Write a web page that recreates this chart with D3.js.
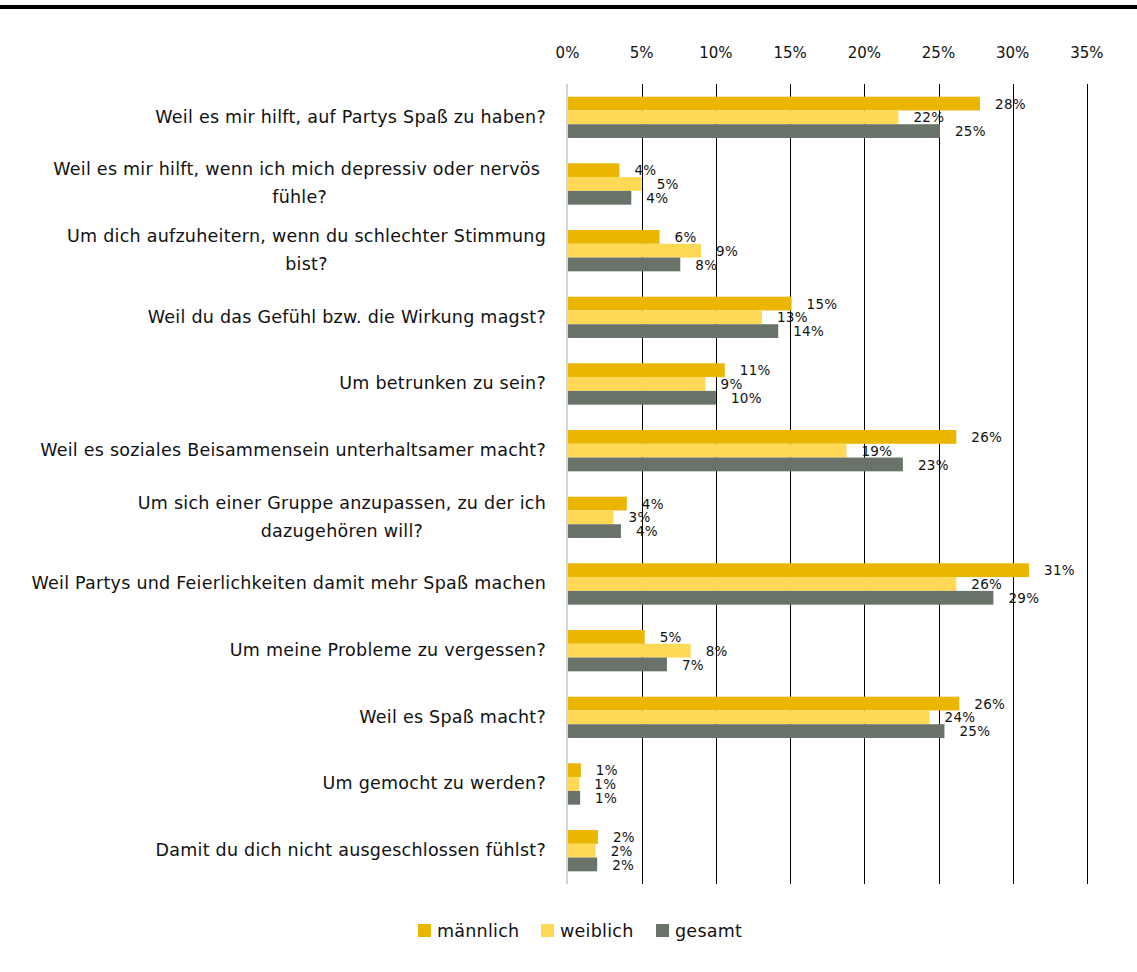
<!DOCTYPE html>
<html>
<head>
<meta charset="utf-8">
<script src="https://cdn.jsdelivr.net/npm/d3@7"></script>
<style>
  body { margin: 0; background: #fff; }
  text { font-family: "DejaVu Sans", sans-serif; fill: #111; }
</style>
</head>
<body>
<div id="graph"></div>
<script>
// question labels, "\n" marks a line break as in the source
var categories = [
  "Weil es mir hilft, auf Partys Spaß zu haben?",
  "Weil es mir hilft, wenn ich mich depressiv oder nervös \nfühle?",
  "Um dich aufzuheitern, wenn du schlechter Stimmung\nbist?",
  "Weil du das Gefühl bzw. die Wirkung magst?",
  "Um betrunken zu sein?",
  "Weil es soziales Beisammensein unterhaltsamer macht?",
  "Um sich einer Gruppe anzupassen, zu der ich\ndazugehören will?",
  "Weil Partys und Feierlichkeiten damit mehr Spaß machen",
  "Um meine Probleme zu vergessen?",
  "Weil es Spaß macht?",
  "Um gemocht zu werden?",
  "Damit du dich nicht ausgeschlossen fühlst?"
];
var series = ["männlich", "weiblich", "gesamt"];
var maennlich = [27.8, 3.5, 6.2, 15.1, 10.6, 26.2, 4.0, 31.1, 5.2, 26.4, 0.9, 2.05];
var weiblich  = [22.3, 5.0, 9.0, 13.1, 9.3, 18.8, 3.1, 26.2, 8.3, 24.4, 0.8, 1.9];
var gesamt    = [25.1, 4.3, 7.6, 14.2, 10.0, 22.6, 3.6, 28.7, 6.7, 25.4, 0.85, 2.0];
var ticks = [0, 5, 10, 15, 20, 25, 30, 35];

var colors = ["#eab600", "#ffd955", "#69736a"];
var values = [maennlich, weiblich, gesamt];

var W = 1137, H = 972;
var margin = {top: 84, left: 567.5, right: 50, bottom: 88};

var svg = d3.select('#graph').append('svg')
    .attr('width', W)
    .attr('height', H);

// thick rule at the very top
svg.append('rect')
    .attr('x', 0).attr('y', 5)
    .attr('width', W).attr('height', 4)
    .attr('fill', '#000');

var x = d3.scaleLinear().domain([0, 35]).range([margin.left, margin.left + 35 * 14.84]);
var y = d3.scaleBand().domain(d3.range(categories.length))
    .range([margin.top, H - margin.bottom]).paddingInner(0.38).paddingOuter(0.19);
var sub = d3.scaleBand().domain(d3.range(series.length)).range([0, y.bandwidth()]);

// gridlines
svg.append('g')
    .selectAll('line')
    .data(ticks.slice(1))
    .enter()
    .append('line')
    .attr('x1', function(d){ return Math.round(x(d)) + 0.5; })
    .attr('x2', function(d){ return Math.round(x(d)) + 0.5; })
    .attr('y1', margin.top).attr('y2', H - margin.bottom)
    .attr('stroke', '#000').attr('stroke-width', 1);

// tick labels on top
svg.append('g')
    .selectAll('text')
    .data(ticks)
    .enter()
    .append('text')
    .attr('x', function(d){ return x(d); })
    .attr('y', 58)
    .attr('text-anchor', 'middle')
    .attr('font-size', '15px')
    .text(function(d){ return d + '%'; });

// bars
var groups = svg.selectAll('g.grp')
    .data(categories)
    .enter()
    .append('g')
    .attr('class', 'grp')
    .attr('transform', function(d, i){ return 'translate(0,' + y(i) + ')'; });

groups.selectAll('rect')
    .data(function(d, i){ return values.map(function(v, s){ return {s: s, v: v[i]}; }); })
    .enter()
    .append('rect')
    .attr('x', x(0))
    .attr('y', function(d){ return sub(d.s); })
    .attr('width', function(d){ return x(d.v) - x(0); })
    .attr('height', sub.bandwidth())
    .attr('fill', function(d){ return colors[d.s]; });

// value labels
groups.selectAll('text.val')
    .data(function(d, i){ return values.map(function(v, s){ return {s: s, v: v[i]}; }); })
    .enter()
    .append('text')
    .attr('class', 'val')
    .attr('x', function(d){ return x(d.v) + 15; })
    .attr('y', function(d){ return sub(d.s) + sub.bandwidth() / 2; })
    .attr('dy', '0.38em')
    .attr('font-size', '13.5px')
    .attr('letter-spacing', '0.3px')
    .text(function(d){ return Math.round(d.v) + '%'; });

// axis line at 0 (light grey)
svg.append('line')
    .attr('x1', x(0) - 0.5).attr('x2', x(0) - 0.5)
    .attr('y1', margin.top).attr('y2', H - margin.bottom)
    .attr('stroke', '#d4d4d4').attr('stroke-width', 2);

// category headings, centred block whose longest line ends at the right edge
groups.each(function(d, i){
  var g = d3.select(this);
  var lines = d.split('\n');
  var cy = y.bandwidth() / 2 - 1;
  var t = g.append('text')
      .attr('font-size', '17.5px')
      .attr('letter-spacing', '0.25px')
      .attr('text-anchor', 'middle')
      .attr('xml:space', 'preserve');
  lines.forEach(function(l, k){
    t.append('tspan')
      .attr('y', cy + (k - (lines.length - 1) / 2) * 28)
      .attr('dy', '0.36em')
      .text(l);
  });
  var maxw = 0;
  t.selectAll('tspan').each(function(){ maxw = Math.max(maxw, this.getComputedTextLength()); });
  t.selectAll('tspan').attr('x', 546 - maxw / 2);
});

// legend
var legend = svg.append('g').attr('transform', 'translate(0,931)');
var lx = [418, 541, 656];
series.forEach(function(s, i){
  legend.append('rect')
      .attr('x', lx[i]).attr('y', -7)
      .attr('width', 13).attr('height', 13)
      .attr('fill', colors[i]);
  legend.append('text')
      .attr('x', lx[i] + 19).attr('y', 0)
      .attr('dy', '0.36em')
      .attr('font-size', '17.5px')
      .attr('letter-spacing', '0.25px')
      .text(s);
});
</script>
</body>
</html>
